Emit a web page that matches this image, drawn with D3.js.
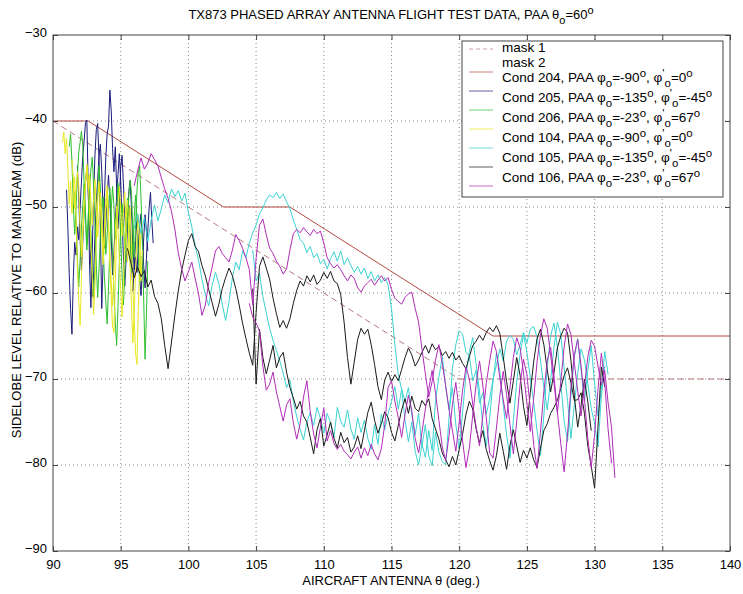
<!DOCTYPE html>
<html><head><meta charset="utf-8">
<script src="https://cdn.jsdelivr.net/npm/d3@7"></script>
<style>body{margin:0;background:#fff}svg text{font-family:"Liberation Sans",Arial,sans-serif;fill:#000}</style>
</head><body>
<svg id="chart" width="743" height="594"></svg>
<script>
// ---------- data ----------
const xTicks = [90, 95, 100, 105, 110, 115, 120, 125, 130, 135, 140];
const yTicks = [-30, -40, -50, -60, -70, -80, -90];
const xDomain = [90, 140];
const yDomain = [-90, -30];

const mask1X = [90, 120, 140];
const mask1Y = [-40, -70, -70];
const mask2X = [90, 92.6, 102.6, 107.5, 122.5, 140];
const mask2Y = [-40, -40, -50, -50, -65, -65];

// sampling of the recorded traces (deg per sample)
const stepShort = 0.1;
const stepLong = 0.25;

// Cond 204 (blue) – two passes
const c204ax0 = 91.0;
const c204ay = [-48.0,-52.5,-57.8,-61.9,-64.8,-58.2,-54.1,-55.6,-52.3,-53.8,-50.2,-47.1,-44.0,-42.3,-40.2,-39.9,-47.5,-56.8,-61.7,-55.0,
 -48.6,-43.9,-41.0,-40.3,-44.6,-52.7,-61.8,-56.4,-48.9,-44.2,-41.5,-40.6,-36.4,-38.8,-43.2,-45.9,-43.0,-47.8,-52.5,-49.6,
 -45.4,-44.0,-47.3,-50.9,-53.8,-51.0,-48.2,-46.9,-50.4,-54.6,-57.3,-55.8,-57.6,-54.9,-52.2,-50.8,-53.5,-56.9,-59.4,-56.0,
 -52.8,-50.1,-48.3,-51.6,-54.2];
const c204bx0 = 91.8;
const c204by = [-45.2,-48.9,-53.6,-57.4,-54.0,-50.3,-47.1,-45.6,-48.3,-52.7,-56.9,-60.4,-57.8,-53.2,-49.5,-46.8,-44.1,-42.7,-45.9,-50.2,
 -54.8,-52.1,-48.6,-46.3,-49.0,-53.5,-57.9,-55.4,-51.6,-48.9,-46.2,-43.8,-47.0,-51.3,-55.8,-59.2,-56.1,-52.4,-49.8,-52.6,
 -56.3,-59.8,-57.0,-53.9,-51.2,-54.5,-58.1,-60.3,-57.2,-53.6,-50.9,-52.8,-55.1];
// Cond 205 (green) – two passes
const c205ax0 = 91.2;
const c205ay = [-43.0,-41.5,-44.8,-49.6,-53.2,-50.1,-46.3,-43.7,-42.5,-41.2,-42.9,-47.4,-51.8,-55.0,-52.2,-48.5,-52.9,-57.3,-60.6,-57.1,
 -52.4,-48.0,-45.2,-47.9,-51.3,-54.6,-58.2,-61.0,-63.6,-59.4,-54.7,-50.3,-47.6,-49.9,-53.7,-50.5,-47.2,-49.8,-53.6,-57.9,
 -61.4,-58.0,-54.4,-51.2,-48.7,-46.9,-48.5,-52.7,-55.9,-52.0,-48.1,-46.0,-45.2,-48.9,-54.3,-60.8,-67.7,-62.5,-56.3];
const c205bx0 = 91.6;
const c205by = [-48.2,-51.6,-55.9,-59.3,-56.2,-52.5,-49.8,-47.3,-50.6,-54.4,-51.0,-48.1,-45.6,-44.2,-47.5,-51.9,-56.8,-60.5,-57.2,-53.0,
 -50.4,-48.8,-51.7,-55.5,-53.2,-50.0,-47.8,-50.9,-55.6,-59.8,-63.4,-66.1,-61.7,-56.5,-52.3,-49.6,-51.8,-54.9,-52.1,-49.0,
 -50.7,-53.9,-57.6,-54.3,-51.1,-48.6,-51.2,-55.4,-58.9,-55.7];
// Cond 206 (yellow) – two passes
const c206ax0 = 90.7;
const c206ay = [-42.5,-41.3,-43.8,-42.0,-45.6,-49.7,-47.0,-50.8,-48.2,-46.5,-51.3,-56.9,-60.7,-63.8,-58.5,-52.9,-49.6,-47.1,-45.3,-48.0,
 -46.2,-49.5,-52.1,-49.0,-46.8,-50.3,-53.5,-51.0,-48.4,-50.7,-55.2,-52.4,-49.3,-47.5,-51.8,-56.6,-60.4,-63.9,-64.6,-58.7,
 -53.0,-49.8,-47.6,-50.2,-53.4,-50.6,-48.3,-52.7,-56.4,-53.1,-50.0,-54.8,-59.6,-63.2,-67.0,-68.3,-62.1,-56.8,-52.4];
const c206bx0 = 91.4;
const c206by = [-44.5,-46.8,-50.2,-48.1,-45.9,-47.6,-52.4,-55.8,-53.0,-49.7,-47.2,-45.0,-46.9,-50.8,-54.7,-58.3,-62.5,-59.1,-53.6,-49.4,
 -47.0,-49.8,-53.1,-56.7,-54.2,-50.5,-48.6,-51.9,-55.3,-58.8,-61.5,-57.4,-52.8,-49.9,-52.6,-56.0,-59.7,-62.8,-58.4,-54.1,
 -51.5,-49.2,-52.9,-57.3,-61.6,-65.8,-62.0,-57.5,-53.7,-50.9,-54.2,-58.6,-55.0];

// Cond 104 (cyan) – two passes
const c104ax0 = 96.0;
const c104ay = [-52.5,-50.8,-53.1,-51.2,-54.0,-51.5,-49.8,-51.6,-50.2,-48.6,-49.5,-47.9,-48.8,-48.1,-49.3,-48.4,-50.6,-52.3,-54.5,-56.2,
 -58.4,-60.2,-61.5,-59.1,-57.6,-58.9,-61.3,-63.2,-61.0,-58.2,-56.4,-57.3,-55.1,-55.9,-54.2,-53.0,-52.1,-50.8,-50.1,-49.2,
 -48.6,-48.9,-48.3,-49.0,-48.5,-49.4,-50.2,-51.5,-52.6,-53.8,-54.2,-55.3,-54.6,-55.9,-55.4,-56.6,-56.1,-57.2,-56.0,-55.2,
 -56.3,-55.1,-56.7,-55.9,-56.8,-57.6,-56.9,-57.8,-57.1,-58.3,-57.5,-58.6,-57.9,-58.8,-58.2,-59.1,-61.8,-66.0,-69.5,-71.2,
 -72.6,-71.0,-74.2,-76.5,-74.0,-77.8,-75.3,-78.9,-80.1,-76.2,-78.5,-79.6,-80.0,-74.5,-68.8,-66.0,-64.4,-64.8,-66.9,-67.3,
 -70.2,-69.0,-72.8,-71.6,-74.1,-72.3,-70.0,-68.4,-66.5,-67.9,-65.6,-64.9,-65.4,-67.2,-66.0,-64.6,-65.8,-64.2,-63.9,-65.1,
 -67.8,-70.9,-73.6,-70.2,-66.3,-63.4,-64.8,-68.7,-72.5,-76.9,-73.0,-69.4,-66.5,-67.8,-70.6,-73.4,-75.2,-77.9,-72.0,-68.5];
const c104bx0 = 104.75;
const c104by = [-55.0,-58.6,-57.7,-60.4,-62.3,-64.1,-65.5,-66.7,-67.9,-69.3,-71.0,-70.1,-72.6,-74.4,-75.8,-77.1,-75.0,-73.9,-75.4,-73.3,
 -74.6,-76.3,-74.0,-75.1,-76.8,-73.3,-74.9,-75.6,-73.6,-75.8,-77.0,-74.5,-76.2,-74.8,-76.9,-78.2,-75.3,-77.6,-74.1,-75.9,
 -74.0,-72.6,-70.9,-73.5,-71.2,-74.8,-77.3,-75.0,-78.4,-80.0,-77.6,-79.1,-76.0,-78.3,-72.5,-69.8,-67.4,-70.9,-73.6,-71.0,
 -75.3,-78.1,-73.9,-69.5,-66.8,-65.2,-68.3,-71.5,-75.4,-77.8,-74.6,-70.2,-67.0,-69.1,-72.9,-76.5,-79.2,-74.8,-70.3,-67.1,
 -64.8,-66.9,-69.8,-72.7,-76.0,-78.9,-74.3,-68.6,-65.0,-63.5,-66.2,-70.4,-74.9,-77.3,-72.0,-67.5,-65.3,-68.9,-72.6,-69.0,
 -66.1,-70.5,-74.3,-71.2,-66.8,-69.5];

// Cond 105 (black) – two passes
const c105ax0 = 95.5;
const c105ay = [-54.8,-56.5,-58.2,-57.0,-58.1,-57.4,-59.3,-58.5,-60.4,-61.2,-63.0,-66.1,-68.8,-65.7,-62.6,-59.8,-57.4,-55.6,-53.9,-53.1,
 -54.6,-55.2,-56.8,-58.0,-59.6,-61.1,-62.7,-61.3,-59.5,-58.2,-57.1,-58.0,-59.5,-61.4,-63.5,-65.3,-67.0,-68.4,-62.3,-56.9,
 -55.8,-57.1,-58.4,-60.6,-62.4,-64.0,-63.2,-64.1,-63.0,-61.2,-59.7,-58.6,-59.2,-58.0,-58.7,-57.9,-59.0,-58.5,-57.6,-58.3,
 -57.5,-58.6,-58.9,-60.2,-63.4,-67.5,-70.6,-68.0,-65.4,-64.1,-64.8,-64.2,-66.0,-68.3,-70.9,-72.4,-70.1,-69.2,-70.3,-69.5,
 -70.2,-68.9,-67.5,-66.4,-67.2,-68.5,-67.8,-66.9,-66.1,-67.0,-65.9,-66.6,-66.2,-67.3,-66.8,-67.6,-66.9,-67.8,-67.3,-68.2,
 -68.8,-67.4,-66.1,-65.6,-64.9,-65.5,-64.6,-64.0,-64.5,-63.8,-64.7,-67.4,-70.3,-72.8,-70.2,-67.5,-69.6,-73.2,-75.4,-71.6,
 -68.0,-65.3,-64.2,-66.0,-68.9,-71.5,-69.3,-66.4,-65.0,-64.1,-64.6,-67.8,-71.9,-75.6,-73.1,-70.0,-72.7,-76.0];
const c105bx0 = 104.75;
const c105by = [-59.5,-70.6,-64.2,-67.5,-69.4,-67.8,-66.1,-68.7,-67.5,-66.9,-69.2,-71.0,-72.2,-73.5,-72.6,-74.3,-75.0,-76.8,-78.7,-75.9,
 -74.6,-77.8,-76.5,-75.0,-76.9,-78.0,-76.2,-77.4,-76.8,-78.5,-77.9,-76.6,-78.1,-76.0,-73.9,-72.7,-74.8,-76.3,-75.2,-73.8,
 -74.5,-76.2,-77.2,-75.4,-73.6,-72.3,-74.0,-72.0,-73.4,-73.8,-72.5,-73.1,-72.3,-74.6,-75.8,-77.0,-78.6,-79.4,-80.2,-79.0,
 -80.0,-78.2,-76.4,-74.1,-72.6,-73.5,-75.8,-77.4,-76.0,-78.2,-79.5,-80.6,-78.9,-76.3,-78.4,-80.5,-77.7,-75.9,-77.8,-79.7,
 -78.3,-79.2,-78.0,-79.4,-80.3,-78.1,-76.0,-75.2,-74.0,-73.3,-72.5,-71.1,-69.6,-68.7,-70.4,-72.5,-72.4,-71.6,-74.0,-77.8,
 -80.1,-82.7,-75.6,-68.6,-70.9];

// Cond 106 (magenta) – two passes
const c106ax0 = 96.0;
const c106ay = [-47.5,-45.8,-44.3,-45.6,-44.9,-43.8,-44.5,-45.2,-46.6,-47.9,-49.0,-50.5,-52.6,-55.3,-57.2,-58.6,-57.5,-56.4,-58.3,-60.1,
 -62.6,-61.4,-58.8,-57.0,-55.1,-54.6,-55.4,-55.9,-56.4,-55.0,-53.2,-53.9,-54.8,-55.9,-57.3,-61.4,-56.0,-52.1,-51.4,-53.2,
 -54.8,-55.4,-56.3,-56.9,-57.8,-57.2,-55.0,-53.1,-52.6,-53.0,-52.4,-52.9,-53.3,-52.6,-53.1,-52.8,-54.2,-55.9,-56.6,-57.1,
 -56.7,-57.3,-58.0,-58.6,-57.9,-58.3,-59.4,-59.9,-59.2,-58.8,-58.4,-59.1,-58.5,-58.0,-58.6,-58.2,-59.6,-60.6,-61.0,-61.3,
 -60.5,-60.1,-59.9,-61.8,-63.4,-66.5,-69.4,-72.1,-70.3,-67.8,-66.0,-68.2,-70.8,-73.5,-76.0,-78.4,-75.1,-71.3,-68.6,-70.0,
 -72.9,-75.6,-77.8,-74.2,-70.5,-67.9,-65.6,-66.8,-69.9,-72.4,-74.6,-71.0,-67.5,-65.2,-66.4,-69.3,-72.8,-76.1,-72.3,-68.0,
 -64.9,-63.0,-64.1,-67.2,-70.5,-73.9,-70.4,-66.3,-63.6,-64.8,-68.1,-71.4,-74.3,-70.9,-67.4,-65.5,-66.2,-68.5,-70.7,-69.0,
 -72.8,-75.6,-81.5];
const c106bx0 = 104.5;
const c106by = [-61.2,-62.8,-63.5,-64.4,-68.5,-71.3,-70.6,-69.2,-71.5,-73.2,-74.9,-73.0,-72.3,-75.1,-77.0,-75.2,-72.1,-70.2,-73.8,-76.4,
 -78.0,-75.6,-73.4,-77.2,-76.0,-77.5,-78.2,-77.6,-78.4,-78.8,-79.3,-78.5,-77.9,-79.2,-78.0,-78.9,-77.6,-78.7,-79.4,-78.1,
 -75.3,-71.0,-70.2,-72.6,-74.5,-76.8,-74.1,-71.9,-73.7,-76.9,-78.6,-76.2,-73.5,-71.2,-69.0,-71.6,-74.8,-77.9,-79.5,-76.6,
 -73.0,-70.4,-73.7,-77.2,-80.3,-78.0,-74.2,-70.6,-67.9,-70.8,-74.5,-78.6,-79.2,-75.7,-72.0,-69.1,-71.8,-75.3,-78.7,-74.9,
 -70.6,-67.7,-69.5,-73.4,-77.6,-80.4,-76.2,-71.5,-67.9,-66.3,-69.6,-73.8,-77.5,-80.8,-76.4,-71.0,-67.2,-65.4,-68.5,-72.3,
 -76.9,-80.3,-76.5,-71.2,-67.0,-70.4,-75.9,-79.8];

const legendLabels = ["mask 1", "mask 2", "Cond 204", "Cond 205", "Cond 206", "Cond 104", "Cond 105", "Cond 106"];
const legendPhi = [null, null, ["-90", "=0"], ["-135", "=-45"], ["-23", "=67"], ["-90", "=0"], ["-135", "=-45"], ["-23", "=67"]];
const colors = {mask1: "#b87878", mask2: "#b04a42", c204: "#1c1c7c", c205: "#2ec02e", c206: "#e8e820", c104: "#3cd2d2", c105: "#1a1a1a", c106: "#b02cb8"};

// ---------- drawing ----------
const svg = d3.select("#chart");
const L = 53, R = 730, T = 35, B = 551;
const x = d3.scaleLinear().domain(xDomain).range([L, R]);
const y = d3.scaleLinear().domain(yDomain).range([B, T]);

// grid
const g = svg.append("g");
g.selectAll(".gx").data(xTicks.slice(1, -1)).enter().append("line")
  .attr("x1", d => x(d)).attr("x2", d => x(d)).attr("y1", T).attr("y2", B)
  .attr("stroke", "#8a8a8a").attr("stroke-dasharray", "1,3").attr("stroke-width", 1);
g.selectAll(".gy").data(yTicks.slice(1, -1)).enter().append("line")
  .attr("y1", d => y(d)).attr("y2", d => y(d)).attr("x1", L).attr("x2", R)
  .attr("stroke", "#8a8a8a").attr("stroke-dasharray", "1,3").attr("stroke-width", 1);

const line = d3.line().x(d => x(d[0])).y(d => y(d[1]));
function seg(x0, step, ys) { return ys.map((v, i) => [x0 + i * step, v]); }

// masks
svg.append("path").datum(mask1X.map((d, i) => [d, mask1Y[i]])).attr("d", line)
  .attr("fill", "none").attr("stroke", colors.mask1).attr("stroke-dasharray", "6,4").attr("stroke-width", 1);
svg.append("path").datum(mask2X.map((d, i) => [d, mask2Y[i]])).attr("d", line)
  .attr("fill", "none").attr("stroke", colors.mask2).attr("stroke-width", 1);

const traces = [
  [seg(c204ax0, stepShort, c204ay), colors.c204],
  [seg(c204bx0, stepShort, c204by), colors.c204],
  [seg(c205ax0, stepShort, c205ay), colors.c205],
  [seg(c205bx0, stepShort, c205by), colors.c205],
  [seg(c206ax0, stepShort, c206ay), colors.c206],
  [seg(c206bx0, stepShort, c206by), colors.c206],
  [seg(c104ax0, stepLong, c104ay), colors.c104],
  [seg(c104bx0, stepLong, c104by), colors.c104],
  [seg(c105ax0, stepLong, c105ay), colors.c105],
  [seg(c105bx0, stepLong, c105by), colors.c105],
  [seg(c106ax0, stepLong, c106ay), colors.c106],
  [seg(c106bx0, stepLong, c106by), colors.c106],
];
traces.forEach(([pts, c]) => {
  svg.append("path").datum(pts).attr("d", line).attr("fill", "none")
    .attr("stroke", c).attr("stroke-width", 1).attr("stroke-linejoin", "round");
});

// axes frame
const axisColor = "#444";
svg.append("rect").attr("x", L).attr("y", T).attr("width", R - L).attr("height", B - T)
  .attr("fill", "none").attr("stroke", axisColor).attr("stroke-width", 1);
const xAxis = d3.axisBottom(x).tickValues(xTicks).tickSize(-5).tickPadding(9).tickFormat(d3.format("d"));
const xg = svg.append("g").attr("transform", `translate(0,${B})`).call(xAxis);
const xgTop = svg.append("g").attr("transform", `translate(0,${T})`).call(d3.axisTop(x).tickValues(xTicks).tickSize(-5).tickFormat(""));
const yAxis = d3.axisLeft(y).tickValues(yTicks).tickSize(-5).tickPadding(6).tickFormat(d3.format("d"));
const yg = svg.append("g").attr("transform", `translate(${L},0)`).call(yAxis);
const ygR = svg.append("g").attr("transform", `translate(${R},0)`).call(d3.axisRight(y).tickValues(yTicks).tickSize(-5).tickFormat(""));
[xg, xgTop, yg, ygR].forEach(a => {
  a.select(".domain").remove();
  a.selectAll("line").attr("stroke", axisColor);
  a.selectAll("text").attr("font-size", 13).attr("font-family", '"Liberation Sans",Arial,sans-serif').attr("fill", "#000");
});
yg.selectAll("text").attr("dy", "0.15em");

// rich text helper
function rich(t, parts, fs) {
  let shift = 0;
  parts.forEach(([s, k]) => {
    const target = k === "sub" ? 5 : k === "sup" ? -5 : 0;
    const sp = t.append("tspan").text(s).attr("dy", target - shift);
    if (k !== "n") sp.attr("font-size", fs * 0.85);
    shift = target;
  });
}

// title
const title = svg.append("text").attr("x", 391).attr("y", 19).attr("text-anchor", "middle").attr("font-size", 13);
rich(title, [["TX873 PHASED ARRAY ANTENNA FLIGHT TEST DATA, PAA θ", "n"], ["o", "sub"], ["=60", "n"], ["o", "sup"]], 13);

// axis labels
const xl = svg.append("text").attr("x", 391).attr("y", 585).attr("text-anchor", "middle").attr("font-size", 13);
rich(xl, [["AIRCRAFT ANTENNA ", "n"], ["θ", "n"], [" (deg.)", "n"]], 13);
svg.append("text").attr("transform", "translate(21,290) rotate(-90)").attr("text-anchor", "middle")
  .attr("font-size", 13).text("SIDELOBE LEVEL RELATIVE TO MAINBEAM (dB)");

// legend
const lg = svg.append("g");
lg.append("rect").attr("x", 462).attr("y", 41).attr("width", 261).attr("height", 156)
  .attr("fill", "#fff").attr("stroke", axisColor).attr("stroke-width", 1);
const textY = [52, 67, 82, 102, 122, 142, 162, 182];
const sampleY = [49, 72, 91, 110, 129, 148, 167, 186];
const sampleColors = [colors.mask1, colors.mask2, colors.c204, colors.c205, colors.c206, colors.c104, colors.c105, colors.c106];
const legendFs = 13.5;
legendLabels.forEach((lab, i) => {
  lg.append("line").attr("x1", 469).attr("x2", 493).attr("y1", sampleY[i]).attr("y2", sampleY[i])
    .attr("stroke", sampleColors[i]).attr("stroke-width", 1).attr("stroke-dasharray", i === 0 ? "4,3" : null)
    .attr("stroke-opacity", 0.7);
  const t = lg.append("text").attr("x", 502).attr("y", textY[i]).attr("font-size", legendFs);
  if (!legendPhi[i]) { t.text(lab); return; }
  const p = legendPhi[i];
  rich(t, [[lab + ", PAA φ", "n"], ["o", "sub"], ["=" + p[0], "n"], ["o", "sup"], [", φ", "n"], ["'", "sup"], ["o", "sub"], [p[1], "n"], ["o", "sup"], ["", "n"]], legendFs);
});
</script>
</body></html>
